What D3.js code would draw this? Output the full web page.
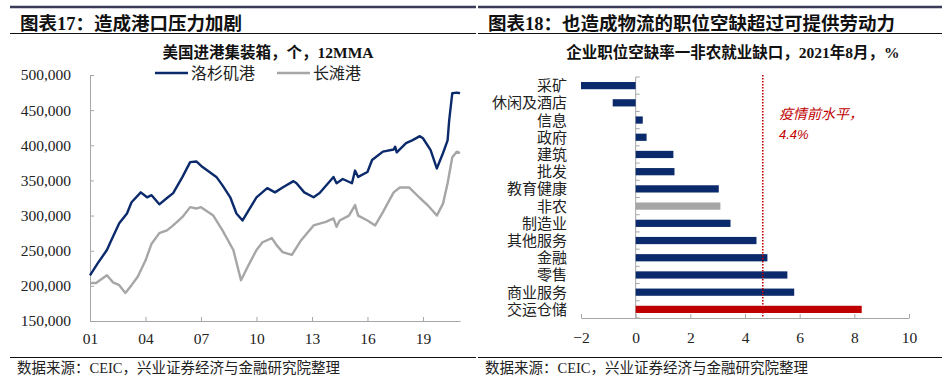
<!DOCTYPE html>
<html>
<head>
<meta charset="utf-8">
<script src="https://cdn.jsdelivr.net/npm/d3@7"></script>
<style>
  body { margin: 0; background: #fff; }
  svg { display: block; font-family: "Liberation Serif", "Noto Sans CJK SC", serif; }
  .axis path, .axis line { stroke: #a6a6a6; }
  .axis text { fill: #222; font-size: 15.5px; font-family: "Liberation Serif", "Noto Sans CJK SC", serif; }
</style>
</head>
<body>
<div id="chart"></div>
<script>
// ---- left chart data: US inbound containers, 12MMA
const laDates = ['2001-01','2001-06','2001-12','2002-02','2002-08','2003-01','2003-04','2003-10','2004-02','2004-05','2004-10','2005-03','2005-07','2006-01','2006-06','2006-10','2007-02','2007-11','2008-03','2008-08','2008-12','2009-04','2010-01','2010-08','2011-01','2011-06','2012-01','2012-03','2012-08','2013-02','2013-06','2014-01','2014-03','2014-05','2014-09','2015-03','2015-05','2015-07','2016-01','2016-04','2016-11','2017-06','2017-07','2017-08','2018-02','2018-06','2018-11','2019-01','2019-06','2019-10','2020-02','2020-05','2020-06','2020-08','2020-11','2021-01']
const laValues = [215,232,251,261,289,303,319,333,326,329,316,325,332,355,376,377,369,355,343,326,303,293,326,339,333,340,349,346,333,326,332,350,355,346,352,346,364,355,362,379,391,394,398,390,403,407,413,410,393,367,389,407,435,474,475,474].map(v => v * 1000)

const lbDates = ['2001-01','2001-05','2001-12','2002-04','2002-08','2002-12','2003-04','2003-08','2004-01','2004-05','2004-10','2005-03','2005-07','2006-01','2006-06','2006-10','2007-01','2007-09','2008-03','2008-10','2009-03','2009-08','2010-01','2010-05','2010-11','2011-02','2011-06','2011-12','2012-06','2013-02','2013-10','2014-03','2014-05','2014-07','2015-01','2015-05','2015-07','2016-01','2016-06','2016-11','2017-06','2017-10','2018-04','2018-11','2019-04','2019-10','2020-02','2020-05','2020-08','2020-11','2021-01']
const lbValues = [204,204,215,205,201,190,201,213,236,260,275,279,286,298,312,310,312,300,279,251,208,230,251,262,268,258,248,244,265,286,291,296,284,293,300,315,300,293,286,305,333,340,340,325,315,300,317,346,383,391,389].map(v => v * 1000)

const yTicksLeft = [150000, 200000, 250000, 300000, 350000, 400000, 450000, 500000]
const xTickYears = [2001, 2004, 2007, 2010, 2013, 2016, 2019]
const seriesNames = ['洛杉矶港', '长滩港']

// ---- right chart data: job openings rate minus payroll gap, Aug 2021, %
const sectors = ['采矿','休闲及酒店','信息','政府','建筑','批发','教育健康','非农','制造业','其他服务','金融','零售','商业服务','交运仓储']
const gapValues = [-2.0, -0.84, 0.26, 0.4, 1.38, 1.42, 3.04, 3.1, 3.47, 4.42, 4.82, 5.55, 5.8, 8.27]
const xTicksRight = [-2, 0, 2, 4, 6, 8, 10]
const preCovidLine = 4.65 // where the dotted line sits in the picture
const preCovidLabel = ['疫情前水平，', '4.4%']

const NAVY = '#0b2a6b'
const GREY = '#a6a6a6'
const RED = '#c00000'

const width = 952
const height = 388

const svg = d3.select('#chart').append('svg').attr('width', width).attr('height', height)

// ---------------- frame: top rule, headings, footers
const frames = [
	{ x1: 10, x2: 476, title: '图表17：造成港口压力加剧', tx: 20 },
	{ x1: 478, x2: 942, title: '图表18：也造成物流的职位空缺超过可提供劳动力', tx: 488 },
]
frames.forEach(f => {
	svg.append('line').attr('x1', f.x1).attr('x2', f.x2).attr('y1', 7).attr('y2', 7)
		.attr('stroke', '#3b3b58').attr('stroke-width', 2.5)
	svg.append('text').attr('x', f.tx).attr('y', 30).text(f.title)
		.attr('font-size', 18.5).attr('font-weight', 'bold').attr('fill', '#111')
	svg.append('line').attr('x1', f.x1).attr('x2', f.x2).attr('y1', 33.5).attr('y2', 33.5)
		.attr('stroke', '#111').attr('stroke-width', 1)
	svg.append('line').attr('x1', f.x1).attr('x2', f.x2).attr('y1', 357.5).attr('y2', 357.5)
		.attr('stroke', '#111').attr('stroke-width', 1)
	svg.append('text').attr('x', f.x1 + 7).attr('y', 373).text('数据来源：CEIC，兴业证券经济与金融研究院整理')
		.attr('font-size', 14.5).attr('fill', '#222')
})

// ---------------- left: line chart
const parseMonth = d3.timeParse('%Y-%m')
const laData = laDates.map((d, i) => ({ date: parseMonth(d), value: laValues[i] }))
const lbData = lbDates.map((d, i) => ({ date: parseMonth(d), value: lbValues[i] }))

const xLeft = d3.scaleTime().domain([new Date(2001, 0, 1), new Date(2021, 0, 1)]).range([90, 460])
const yLeft = d3.scaleLinear().domain([150000, 500000]).range([321, 75])

svg.append('text').attr('x', 268).attr('y', 58).attr('text-anchor', 'middle')
	.attr('font-size', 15.5).attr('font-weight', 'bold').attr('fill', '#111')
	.text('美国进港集装箱，个，12MMA')

const yAxisL = svg.append('g').attr('class', 'axis').attr('transform', 'translate(90,0)')
	.call(d3.axisRight(yLeft).tickValues(yTicksLeft).tickSize(4).tickFormat(d3.format(',')))
yAxisL.selectAll('text').attr('x', -19).attr('text-anchor', 'end')

const xAxisL = svg.append('g').attr('class', 'axis').attr('transform', 'translate(0,321)')
	.call(d3.axisTop(xLeft).tickValues(xTickYears.map(y => new Date(y, 0, 1))).tickSize(4)
		.tickFormat(d3.timeFormat('%y')).tickSizeOuter(0))
xAxisL.selectAll('text').attr('y', 23).attr('dy', 0)

const lineL = d3.line().x(d => xLeft(d.date)).y(d => yLeft(d.value))
svg.append('path').datum(lbData).attr('d', lineL).attr('fill', 'none')
	.attr('stroke', GREY).attr('stroke-width', 2.4).attr('stroke-linejoin', 'round')
svg.append('path').datum(laData).attr('d', lineL).attr('fill', 'none')
	.attr('stroke', NAVY).attr('stroke-width', 2.4).attr('stroke-linejoin', 'round')

// legend
const legend = svg.append('g').attr('class', 'legend')
;[{ x: 155, c: NAVY }, { x: 277, c: GREY }].forEach((l, i) => {
	legend.append('line').attr('x1', l.x).attr('x2', l.x + 33).attr('y1', 73).attr('y2', 73)
		.attr('stroke', l.c).attr('stroke-width', 2.5)
	legend.append('text').attr('x', l.x + 36).attr('y', 79).text(seriesNames[i])
		.attr('font-size', 16).attr('fill', '#222')
})

// ---------------- right: horizontal bar chart
const xRight = d3.scaleLinear().domain([-2, 10]).range([581, 909])
const yRight = d3.scaleBand().domain(sectors).range([77, 318]).paddingInner(0.58).paddingOuter(0.29)

svg.append('text').attr('x', 733).attr('y', 58).attr('text-anchor', 'middle')
	.attr('font-size', 15.5).attr('font-weight', 'bold').attr('fill', '#111')
	.text('企业职位空缺率一非农就业缺口，2021年8月，%')

const xAxisR = svg.append('g').attr('class', 'axis').attr('transform', 'translate(0,318)')
	.call(d3.axisTop(xRight).tickValues(xTicksRight).tickSize(4).tickSizeOuter(0))
xAxisR.selectAll('text').attr('y', 25).attr('dy', 0)

// category axis sits on the zero line; boundary ticks between bands
const yCat = svg.append('g').attr('class', 'axis')
yCat.append('line').attr('x1', xRight(0)).attr('x2', xRight(0)).attr('y1', 77).attr('y2', 318)
	.attr('stroke', GREY)
yCat.selectAll('line.tick').data(d3.range(sectors.length + 1)).join('line')
	.attr('class', 'tick')
	.attr('x1', xRight(0)).attr('x2', xRight(0) + 4)
	.attr('y1', i => 77 + i * (241 / sectors.length)).attr('y2', i => 77 + i * (241 / sectors.length))
	.attr('stroke', GREY)

svg.append('g').selectAll('text').data(sectors).join('text')
	.attr('x', 567).attr('y', d => yRight(d) + yRight.bandwidth() / 2 + 5.5)
	.attr('text-anchor', 'end').attr('font-size', 15).attr('fill', '#222')
	.text(d => d)

svg.append('g').selectAll('rect').data(sectors).join('rect')
	.attr('x', (d, i) => xRight(Math.min(0, gapValues[i])))
	.attr('y', d => yRight(d))
	.attr('width', (d, i) => Math.abs(xRight(gapValues[i]) - xRight(0)))
	.attr('height', yRight.bandwidth())
	.attr('fill', d => d === '非农' ? GREY : d === '交运仓储' ? RED : NAVY)

// dotted reference line
svg.append('line').attr('x1', xRight(preCovidLine)).attr('x2', xRight(preCovidLine))
	.attr('y1', 75).attr('y2', 318)
	.attr('stroke', RED).attr('stroke-width', 1.6).attr('stroke-dasharray', '1.5,1.5')

const note = svg.append('g').attr('fill', RED).attr('font-style', 'italic')
	.attr('font-family', '"Noto Sans CJK SC", "Liberation Sans", sans-serif')
note.append('text').attr('x', 779).attr('y', 119).attr('font-size', 14).text(preCovidLabel[0])
note.append('text').attr('x', 779).attr('y', 139).attr('font-size', 13).attr('font-family', '"Liberation Sans", sans-serif').text(preCovidLabel[1])
</script>
</body>
</html>
